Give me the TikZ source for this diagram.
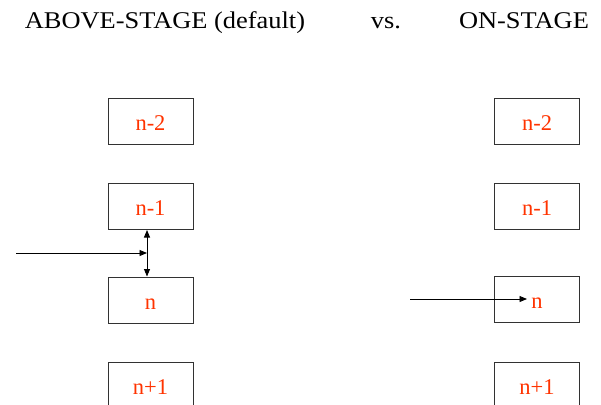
\documentclass[tikz,border=0pt]{standalone}
\usepackage{fontspec}
\setmainfont{Liberation Serif}
\usetikzlibrary{arrows.meta}
\definecolor{labelred}{RGB}{255,51,0}
\definecolor{boxline}{RGB}{50,50,50}
\begin{document}
\begin{tikzpicture}[x=1pt,y=-1pt,
  stagebox/.style={draw=boxline,line width=1pt,minimum width=85pt,minimum height=46pt,
    inner sep=0pt,text=labelred,font=\fontsize{22.5}{24}\selectfont,
    text height=18pt,text depth=0pt},
  heading/.style={anchor=base,inner sep=0pt,font=\fontsize{24}{26}\selectfont,xscale=1.1},
  link/.style={line width=0.9pt,-{Triangle[length=7.5pt,width=6pt]}},
  dlink/.style={line width=0.9pt,{Triangle[length=7.5pt,width=6pt]}-{Triangle[length=7.5pt,width=6pt]}}]
\useasboundingbox (0,0) rectangle (601,404);

% headings
\node[heading] (tabove) at (165,28.5) {ABOVE-STAGE (default)};
\node[heading] (tvs) at (386,28.5) {vs.};
\node[heading] (ton) at (524,28.5) {ON-STAGE};

% left column
\node[stagebox] (la) at (150.5,121.5) {n-2};
\node[stagebox] (lb) at (150.5,206.5) {n-1};
\node[stagebox] (lc) at (150.5,300) {n};
\node[stagebox] (ld) at (150.5,385) {n+1};

% right column
\node[stagebox] (ra) at (537,121.5) {n-2};
\node[stagebox] (rb) at (537,206.5) {n-1};
\node[stagebox] (rc) at (537,299.5) {n};
\node[stagebox] (rd) at (537,385) {n+1};

% above-stage insertion point between n-1 and n
\coordinate (lstart) at (16,253);
\coordinate (lgap) at (147,253);
\draw[dlink] (lb.south -| lgap) -- (lc.north -| lgap);
\draw[link] (lstart) -- (lgap);

% on-stage insertion point at n
\coordinate (rstart) at (410,299);
\coordinate (rtip) at (527,299);
\draw[link] (rstart) -- (rtip);
\end{tikzpicture}
\end{document}
